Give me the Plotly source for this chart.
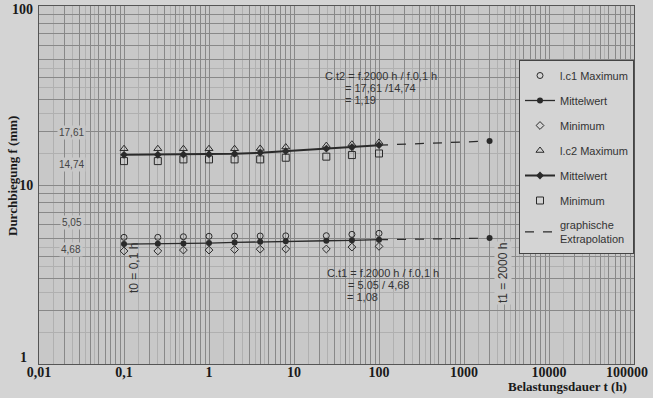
import plotly.graph_objects as go

# ---- data ----
t_hours = [0.1, 0.25, 0.5, 1, 2, 4, 8, 24, 48, 100]
lc1_max = [5.10, 5.10, 5.14, 5.17, 5.18, 5.19, 5.20, 5.21, 5.30, 5.37]
lc1_mean = [4.68, 4.69, 4.71, 4.74, 4.78, 4.82, 4.85, 4.88, 4.91, 4.95]
lc1_min = [4.28, 4.28, 4.33, 4.33, 4.36, 4.38, 4.39, 4.39, 4.50, 4.54]
lc2_max = [15.95, 15.95, 15.95, 15.95, 15.95, 16.0, 16.3, 16.6, 16.9, 17.3]
lc2_mean = [14.74, 14.76, 14.80, 14.85, 14.95, 15.15, 15.45, 15.95, 16.25, 16.70]
lc2_min = [13.6, 13.6, 13.9, 13.9, 13.9, 13.9, 14.2, 14.4, 14.7, 15.0]
t_extrap = 2000
lc1_extrap = 5.05
lc2_extrap = 17.61

x_tickvals = [0.01, 0.1, 1, 10, 100, 1000, 10000, 100000]
x_ticktext = ["0,01", "0,1", "1", "10", "100", "1000", "10000", "100000"]
y_tickvals = [1, 10, 100]
y_ticktext = ["1", "10", "100"]

legend_names = ["l.c1 Maximum", "Mittelwert", "Minimum", "l.c2 Maximum", "Mittelwert",
                "Minimum", "graphische<br>Extrapolation"]

# ---- style ----
W, H = 653, 398
L, R, T, B = 39, 19, 6, 34
PW, PH = W - L - R, H - T - B
INK = "#2a2a2a"
PLOT_BG = "#c8c8c8"
PAPER_BG = "#d4d4d4"
SERIF = "Liberation Serif"
SANS = "Liberation Sans"


def px(xp):
    return (xp - L) / PW


def py(yp):
    return (H - B - yp) / PH


fig = go.Figure()

fig.add_trace(go.Scatter(x=t_hours, y=lc1_max, mode="markers", name=legend_names[0],
                         legendgroup="a", marker=dict(symbol="circle-open", size=6,
                                                      color=INK, line=dict(width=1))))
fig.add_trace(go.Scatter(x=t_hours, y=lc1_mean, mode="lines+markers", name=legend_names[1],
                         legendgroup="b", line=dict(color=INK, width=1.3),
                         marker=dict(symbol="circle", size=6, color=INK)))
fig.add_trace(go.Scatter(x=t_hours, y=lc1_min, mode="markers", name=legend_names[2],
                         legendgroup="c", marker=dict(symbol="diamond-open", size=6,
                                                      color=INK, line=dict(width=1))))
fig.add_trace(go.Scatter(x=t_hours, y=lc2_max, mode="markers", name=legend_names[3],
                         legendgroup="d", marker=dict(symbol="triangle-up-open", size=7,
                                                      color=INK, line=dict(width=1))))
fig.add_trace(go.Scatter(x=t_hours, y=lc2_mean, mode="lines+markers", name=legend_names[4],
                         legendgroup="e", line=dict(color=INK, width=2),
                         marker=dict(symbol="diamond", size=6, color=INK)))
fig.add_trace(go.Scatter(x=t_hours, y=lc2_min, mode="markers", name=legend_names[5],
                         legendgroup="f", marker=dict(symbol="square-open", size=7,
                                                      color=INK, line=dict(width=1))))
fig.add_trace(go.Scatter(x=[t_hours[-1], t_extrap, None, t_hours[-1], t_extrap],
                         y=[lc1_mean[-1], lc1_extrap, None, lc2_mean[-1], lc2_extrap],
                         mode="lines", name=legend_names[6], legendgroup="g",
                         line=dict(color=INK, width=1.2, dash="dash")))
fig.add_trace(go.Scatter(x=[t_extrap, t_extrap], y=[lc1_extrap, lc2_extrap], mode="markers",
                         showlegend=False, marker=dict(symbol="circle", size=6, color=INK)))


# grid values (log paper)
def grid_vals(lo, hi):
    vals = []
    for e in range(lo, hi):
        for m in range(1, 10):
            vals.append(m * 10 ** e)
    vals.append(10 ** hi)
    return vals


def fine_vals(lo, hi):
    vals = []
    for e in range(lo, hi):
        for m in [1.5, 2.5, 3.5, 4.5]:
            vals.append(m * 10 ** e)
    return vals


xg = grid_vals(-2, 5)
yg = grid_vals(0, 2)
# the tick labels at the very edges are drawn as annotations below
xtext = [x_ticktext[x_tickvals.index(v)] if (v in x_tickvals and v != x_tickvals[-1]) else ""
         for v in xg]
ytext = [y_ticktext[y_tickvals.index(v)] if (v in y_tickvals and v not in (y_tickvals[0], y_tickvals[-1])) else ""
         for v in yg]

tickfont = dict(family=SERIF, size=14, color="#1a1a1a", weight="bold")

fig.update_xaxes(type="log", range=[-2, 5], tickmode="array", tickvals=xg, ticktext=xtext,
                 showgrid=True, gridcolor="#888888", gridwidth=1, ticks="",
                 ticklabelstandoff=-5,
                 tickfont=tickfont, showline=True, linecolor="#555", linewidth=1, mirror=True,
                 zeroline=False,
                 minor=dict(tickmode="array", tickvals=fine_vals(-2, 5), showgrid=True,
                            gridcolor="#b0b0b0", gridwidth=1))
fig.update_yaxes(type="log", range=[0, 2], tickmode="array", tickvals=yg, ticktext=ytext,
                 showgrid=True, gridcolor="#888888", gridwidth=1, ticks="",
                 ticklabelstandoff=2,
                 tickfont=tickfont, showline=True, linecolor="#555", linewidth=1, mirror=True,
                 zeroline=False,
                 minor=dict(tickmode="array", tickvals=fine_vals(0, 2), showgrid=True,
                            gridcolor="#b0b0b0", gridwidth=1))

ann = []
txt = dict(family=SANS, size=11, color="#333")
small = dict(family=SANS, size=10, color="#444")


def add(text, xp, yp, font, xanchor="left", **kw):
    ann.append(dict(text=text, x=px(xp), y=py(yp), xref="paper", yref="paper",
                    xanchor=xanchor, yanchor="middle", showarrow=False, font=font, **kw))


add("C.t2 = f.2000 h / f.0,1 h", 323, 76, txt)
add("= 17,61 /14,74", 343, 88, txt)
add("= 1,19", 343, 100, txt)
add("C.t1 = f.2000 h / f.0,1 h", 325, 273, txt)
add("= 5.05 / 4,68", 346, 285, txt)
add("= 1,08", 345, 297, txt)
add("17,61", 71, 132, small, xanchor="center", bgcolor=PLOT_BG)
add("14,74", 71, 165, small, xanchor="center", bgcolor=PLOT_BG)
add("5,05", 72, 222, small, xanchor="center", bgcolor=PLOT_BG)
add("4,68", 71, 249, small, xanchor="center", bgcolor=PLOT_BG)
add("t0 = 0,1 h", 134, 268, dict(family=SANS, size=12, color="#333"), xanchor="center",
    textangle=-90)
add("t1 = 2000 h", 503, 273, dict(family=SANS, size=12, color="#333"), xanchor="center",
    textangle=-90, bgcolor=PLOT_BG)
add("Durchbiegung f (mm)", 12, 176, dict(family=SERIF, size=13, color="#1a1a1a", weight="bold"),
    xanchor="center", textangle=-90)
add("Belastungsdauer t (h)", 567, 386, dict(family=SERIF, size=13, color="#1a1a1a", weight="bold"),
    xanchor="center")
# edge tick labels
add(x_ticktext[-1], 627, 372, tickfont, xanchor="center")
add(y_ticktext[-1], 35, 10, tickfont, xanchor="right")
add(y_ticktext[0], 23, 357, tickfont, xanchor="center")

fig.update_layout(
    width=W, height=H, margin=dict(l=L, r=R, t=T, b=B, autoexpand=False),
    paper_bgcolor=PAPER_BG, plot_bgcolor=PLOT_BG,
    annotations=ann,
    legend=dict(x=1, y=py(60), xanchor="right", yanchor="top", xref="paper", yref="paper",
                bgcolor=PAPER_BG, bordercolor="#444", borderwidth=1,
                font=dict(family=SANS, size=11, color="#333"),
                traceorder="grouped", tracegroupgap=6, itemwidth=30),
    showlegend=True,
)

fig.write_html("out.html")
